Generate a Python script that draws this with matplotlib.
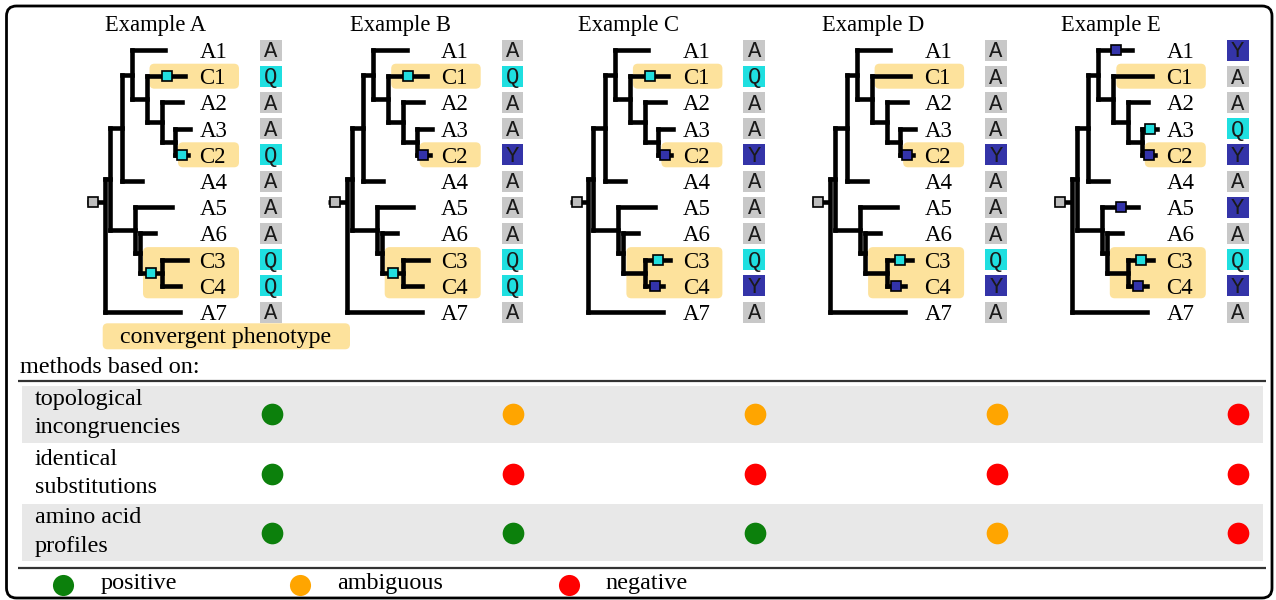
import matplotlib
matplotlib.use("Agg")
import matplotlib.pyplot as plt
from matplotlib.patches import FancyBboxPatch, Rectangle

# ---------------- data ----------------
examples = ["Example A", "Example B", "Example C", "Example D", "Example E"]
tips = ["A1", "C1", "A2", "A3", "C2", "A4", "A5", "A6", "C3", "C4", "A7"]
# tree topology: (name, branch length, children)
tree = ("root", 0.0, [
    ("X", 1.0, [
        ("Y", 2.3, [
            ("T", 2.0, [
                ("A1", 6.7, []),
                ("P", 3.0, [
                    ("C1", 7.7, []),
                    ("Q", 3.0, [
                        ("A2", 4.0, []),
                        ("S", 2.7, [("A3", 3.0, []), ("C2", 2.6, [])]),
                    ]),
                ]),
            ]),
            ("A4", 4.0, []),
        ]),
        ("L", 5.0, [
            ("A5", 7.3, []),
            ("M", 1.0, [
                ("A6", 3.0, []),
                ("N", 4.3, [("C3", 5.0, []), ("C4", 3.7, [])]),
            ]),
        ]),
    ]),
    ("A7", 15.0, []),
])
convergent_clades = [["C1"], ["C2"], ["C3", "C4"]]
root_state = "A"
tip_states = ["AQAAQAAAQQA", "AQAAYAAAQQA", "AQAAYAAAQYA", "AAAAYAAAQYA", "YAAQYAYAQYA"]
substitutions = [
    {"C1": "Q", "C2": "Q", "N": "Q"},
    {"C1": "Q", "C2": "Y", "N": "Q"},
    {"C1": "Q", "C2": "Y", "C3": "Q", "C4": "Y"},
    {"C2": "Y", "C3": "Q", "C4": "Y"},
    {"A1": "Y", "A3": "Q", "C2": "Y", "A5": "Y", "C3": "Q", "C4": "Y"},
]
methods = ["topological\nincongruencies", "identical\nsubstitutions", "amino acid\nprofiles"]
results = [
    ["positive", "ambiguous", "ambiguous", "ambiguous", "negative"],
    ["positive", "negative", "negative", "negative", "negative"],
    ["positive", "positive", "positive", "ambiguous", "negative"],
]
outcomes = ["positive", "ambiguous", "negative"]
legend_label = "convergent phenotype"
methods_title = "methods based on:"

# ---------------- style ----------------
state_colors = {"A": "#c8c8c8", "Q": "#1fdfe0", "Y": "#3434a8"}
marker_colors = {"A": "#bdbdbd", "Q": "#22dede", "Y": "#3333aa"}
outcome_colors = {"positive": "#0c800c", "ambiguous": "#ffa500", "negative": "#ff0000"}
highlight = "#fde29c"
SERIF = "Liberation Serif"
MONO = "Liberation Mono"
W, H = 1276, 600
DX = 241.7
UNIT = 5.0
ROOT_X = 105.0
ROOT_STEM_Y = 202.0
title_x = [156, 401, 629, 873, 1111]
LW = 3.3

def row_y(i):
    return 50 + 26.2 * i

fig = plt.figure(figsize=(W / 100, H / 100), dpi=100)
ax = fig.add_axes([0, 0, 1, 1])
ax.set_xlim(0, W)
ax.set_ylim(H, 0)
ax.axis("off")

def layout(node, x0, pos, parent=None):
    name, bl, kids = node
    x = x0 + bl * UNIT
    if not kids:
        y = row_y(tips.index(name))
    else:
        ys = [layout(k, x, pos, name) for k in kids]
        y = (ys[0] + ys[-1]) / 2
    pos[name] = (x, y, x0, parent, [k[0] for k in kids])
    return y

pos = {}
layout(tree, ROOT_X, pos)

def mrca_parent_x(clade):
    if len(clade) == 1:
        return pos[clade[0]][2]
    for name, (x, y, px, par, kids) in pos.items():
        if sorted(kids) == sorted(clade):
            return px
    return None

for e, title in enumerate(examples):
    off = e * DX
    ax.text(title_x[e], 31.5, title, family=SERIF, fontsize=16.3, ha="center", va="baseline")
    # highlight boxes
    for clade in convergent_clades:
        ys = [row_y(tips.index(t)) for t in clade]
        left = off + mrca_parent_x(clade) + 3
        right = off + 239
        top = min(ys) - 12.5
        bot = max(ys) + 12.5
        ax.add_patch(FancyBboxPatch((left, top), right - left, bot - top,
                                    boxstyle="round,pad=0,rounding_size=5",
                                    fc=highlight, ec="none", zorder=1))
    # branches
    for name, (x, y, px, par, kids) in pos.items():
        if kids:
            cy = [pos[k][1] for k in kids]
            ax.plot([off + x, off + x], [min(cy), max(cy)], color="black", lw=LW,
                    solid_capstyle="projecting", zorder=2)
        if par is not None:
            ax.plot([off + px, off + x], [y, y], color="black", lw=LW,
                    solid_capstyle="projecting", zorder=2)
    # root stem and marker
    ax.plot([off + ROOT_X - 18.3, off + ROOT_X], [ROOT_STEM_Y, ROOT_STEM_Y], color="black",
            lw=LW, solid_capstyle="butt", zorder=2)
    ax.plot([off + ROOT_X - 11.7], [ROOT_STEM_Y], marker="s", ms=7.5, mfc=marker_colors[root_state],
            mec="black", mew=1.2, zorder=4)
    # substitutions
    for br, st in substitutions[e].items():
        x, y, px, par, kids = pos[br]
        mx = px + 0.52 * (x - px)
        ax.plot([off + mx], [y], marker="s", ms=7.5, mfc=marker_colors[st], mec="black",
                mew=1.2, zorder=4)
    # tip labels and states
    for i, t in enumerate(tips):
        y = row_y(i)
        ax.text(off + 199.5, y + 8, t, family=SERIF, fontsize=16.5, va="baseline", zorder=3)
        st = tip_states[e][i]
        ax.add_patch(Rectangle((off + 260, y - 10.5), 21.7, 21, fc=state_colors[st], ec="none", zorder=2))
        ax.text(off + 270.8, y + 7.3, st, family=MONO, fontsize=16, ha="center", va="baseline",
                color="#1a1a1a", zorder=3)

# convergent phenotype legend
ax.add_patch(FancyBboxPatch((102.7, 323.3), 247.3, 26, boxstyle="round,pad=0,rounding_size=5",
                            fc=highlight, ec="none", zorder=1))
ax.text(225.5, 343.3, legend_label, family=SERIF, fontsize=17.2, ha="center", va="baseline")

# methods table
ax.text(20.5, 373.3, methods_title, family=SERIF, fontsize=17.4, va="baseline")
ax.plot([18, 1266], [381, 381], color="#333333", lw=1.6, solid_capstyle="butt")
ax.plot([18, 1266], [568.3, 568.3], color="#333333", lw=1.6, solid_capstyle="butt")
row_centers = [414.3, 474.0, 532.7]
for r, (m, res) in enumerate(zip(methods, results)):
    cyr = row_centers[r]
    if r % 2 == 0:
        ax.add_patch(Rectangle((22, cyr - 28.3), 1241, 56.6, fc="#e8e8e8", ec="none", zorder=0))
    lines = m.split("\n")
    ax.text(35, cyr - 9.3, lines[0], family=SERIF, fontsize=17.4, va="baseline")
    ax.text(35, cyr + 19.0, lines[1], family=SERIF, fontsize=17.4, va="baseline")
    for e, val in enumerate(res):
        ax.plot([e * DX + 271.5], [cyr], marker="o", ms=15.6, mfc=outcome_colors[val],
                mec="none", zorder=3)

# outcome legend
leg_x = [63.3, 300.0, 568.5]
for lx, o in zip(leg_x, outcomes):
    ax.plot([lx], [584.7], marker="o", ms=15.2, mfc=outcome_colors[o], mec="none")
    ax.text(lx + 37, 589.3, o, family=SERIF, fontsize=17.4, va="baseline")

# outer frame
ax.add_patch(FancyBboxPatch((6.5, 6), 1265.5, 592, boxstyle="round,pad=0,rounding_size=10",
                            fc="none", ec="black", lw=2.0, zorder=5))

fig.savefig("out.png", dpi=100)
